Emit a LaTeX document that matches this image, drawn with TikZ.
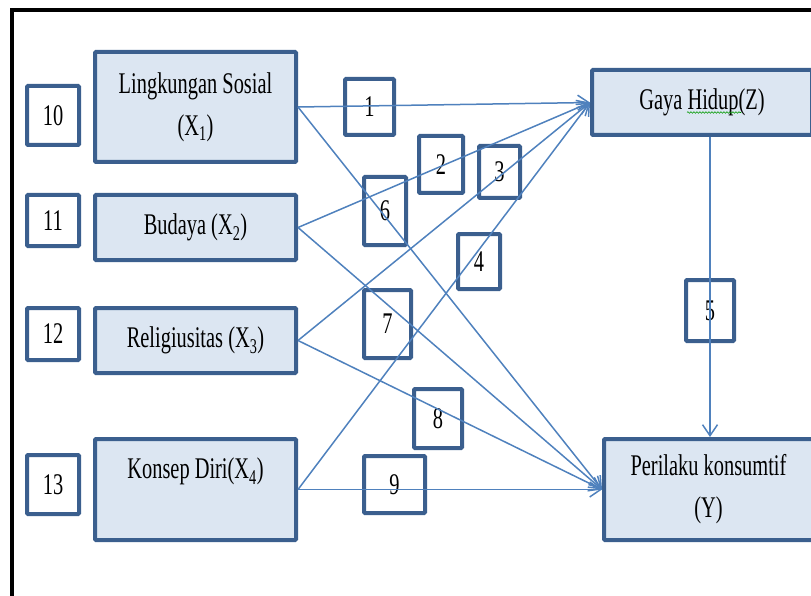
\documentclass[tikz,border=0pt]{standalone}
\usepackage{fontspec}
\setmainfont{Liberation Serif}[FakeStretch=0.68]
\usetikzlibrary{arrows.meta,decorations.pathmorphing}
\definecolor{boxline}{HTML}{3B5F8E}
\definecolor{boxfill}{HTML}{DCE6F2}
\definecolor{linkline}{HTML}{4F81BD}
\begin{document}
\begin{tikzpicture}[x=1pt, y=-1pt,
    varbox/.style={draw=boxline, line width=4pt, fill=boxfill, rounded corners=1pt,
      inner sep=0pt, align=center, font=\fontsize{30}{42}\selectfont},
    numbox/.style={draw=boxline, line width=4pt, rounded corners=1pt, inner sep=0pt,
      font=\fontsize{30}{36}\selectfont},
    link/.style={draw=linkline, line width=1.5pt, -{Straight Barb[length=11pt, width=15pt]}}]
  \clip (0, 0) rectangle (811, 596);
  \draw[line width=4pt] (12, 600) -- (12, 10) -- (815, 10);
  \node[varbox, minimum width=201pt, minimum height=110pt] (x1) at (195.5, 107) {Lingkungan Sosial\\(X\textsubscript{1})};
  \node[varbox, minimum width=201pt, minimum height=65pt] (x2) at (195.5, 227.5) {Budaya (X\textsubscript{2})};
  \node[varbox, minimum width=201pt, minimum height=65pt] (x3) at (195.5, 340.5) {Religiusitas (X\textsubscript{3})};
  \node[varbox, minimum width=201pt, minimum height=101pt] (x4) at (195.5, 489.5) {Konsep Diri(X\textsubscript{4})\\~};
  \node[varbox, minimum width=220pt, minimum height=65pt] (gaya) at (702, 102.5) {Gaya Hidup(Z)};
  \node[varbox, minimum width=209pt, minimum height=101pt] (perilaku) at (708.5, 489.5) {Perilaku konsumtif\\(Y)};
  \foreach \n/\x/\y/\w/\h in {10/53/115.5/52/59, 11/53/220.5/52/51, 12/53/334/52/52, 13/53/484.5/52/59}
    \node[numbox, fill=white, minimum width=\w pt, minimum height=\h pt] (n\n) at (\x, \y) {\n};
  \foreach \n/\x/\y/\w/\h in {1/369.5/107/49/56, 2/441/164.5/44/57, 3/499.5/172/41/52,
      4/479/261.5/42/55, 5/710/310.5/48/61, 6/385/211/42/68, 7/387.5/324/47/68,
      8/438/418.5/48/59, 9/394.5/484.5/61/57}
    \node[numbox, minimum width=\w pt, minimum height=\h pt] (n\n) at (\x, \y) {\n};
  \foreach \s in {x1, x2, x3, x4} {
    \draw[link] (\s.east) -- (gaya.west);
    \draw[link] (\s.east) -- (perilaku.west);
  }
  \draw[link] (gaya.south -| n5) -- (perilaku.north -| n5);
  \draw[green!60!black, line width=0.6pt, decorate, decoration={snake, amplitude=0.8pt, segment length=3pt}]
    (gaya.center) ++(-15, 10) -- ++(54, 0);
\end{tikzpicture}
\end{document}
